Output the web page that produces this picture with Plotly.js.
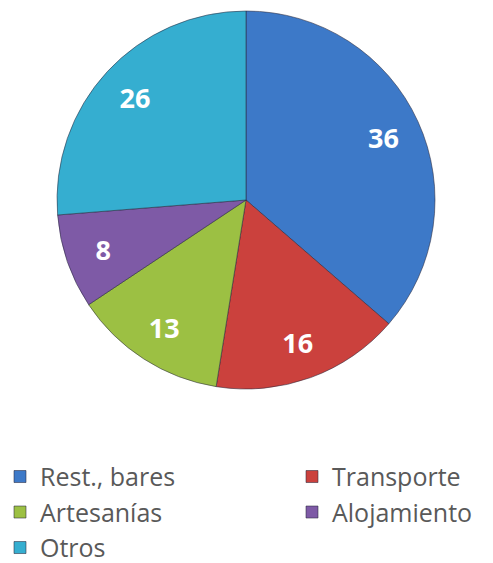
<!DOCTYPE html>
<html><head><meta charset="utf-8">
<script src="https://cdn.plot.ly/plotly-3.0.1.min.js"></script>
<style>html,body{margin:0;padding:0;background:#fff;overflow:hidden;}#wrap{width:493px;height:563px;overflow:hidden;}#chart{width:580px;height:563px;}</style>
</head><body><div id="wrap"><div id="chart"></div></div>
<script>
const categories = ["Rest., bares", "Transporte", "Artesanías", "Alojamiento", "Otros"];
const values = [36, 16, 13, 8, 26];
const colors = ["#3D79C8", "#CB413D", "#9CC043", "#7E5AA6", "#35AED0"];

const W = 580, H = 563;
const dom = {x: [57/W, 435/W], y: [174/H, 552/H]};

Plotly.newPlot("chart", [{
  type: "pie",
  labels: categories,
  values: values,
  sort: false,
  direction: "clockwise",
  rotation: 0,
  marker: {colors: colors, line: {color: "rgba(40,40,60,0.55)", width: 1}},
  textinfo: "none",
  domain: dom,
  hoverinfo: "label+value"
}, {
  type: "pie",
  labels: categories,
  values: values,
  sort: false,
  direction: "clockwise",
  rotation: 0,
  hole: 0.6,
  showlegend: false,
  marker: {colors: categories.map(() => "rgba(0,0,0,0)"), line: {width: 0}},
  textinfo: "value",
  textposition: "inside",
  insidetextorientation: "horizontal",
  textfont: {family: "Open Sans", size: 27, color: "#ffffff", weight: 700},
  domain: dom,
  hoverinfo: "skip"
}], {
  width: W, height: H,
  margin: {l: 0, r: 0, t: 0, b: 0, autoexpand: false},
  paper_bgcolor: "#ffffff",
  showlegend: true,
  legend: {
    orientation: "h", x: 0, xanchor: "left", y: 0.194, yanchor: "top",
    font: {family: "Open Sans", size: 25, color: "#595959"},
    entrywidth: 247, entrywidthmode: "pixels", traceorder: "normal"
  }
}, {displayModeBar: false});
</script></body></html>
